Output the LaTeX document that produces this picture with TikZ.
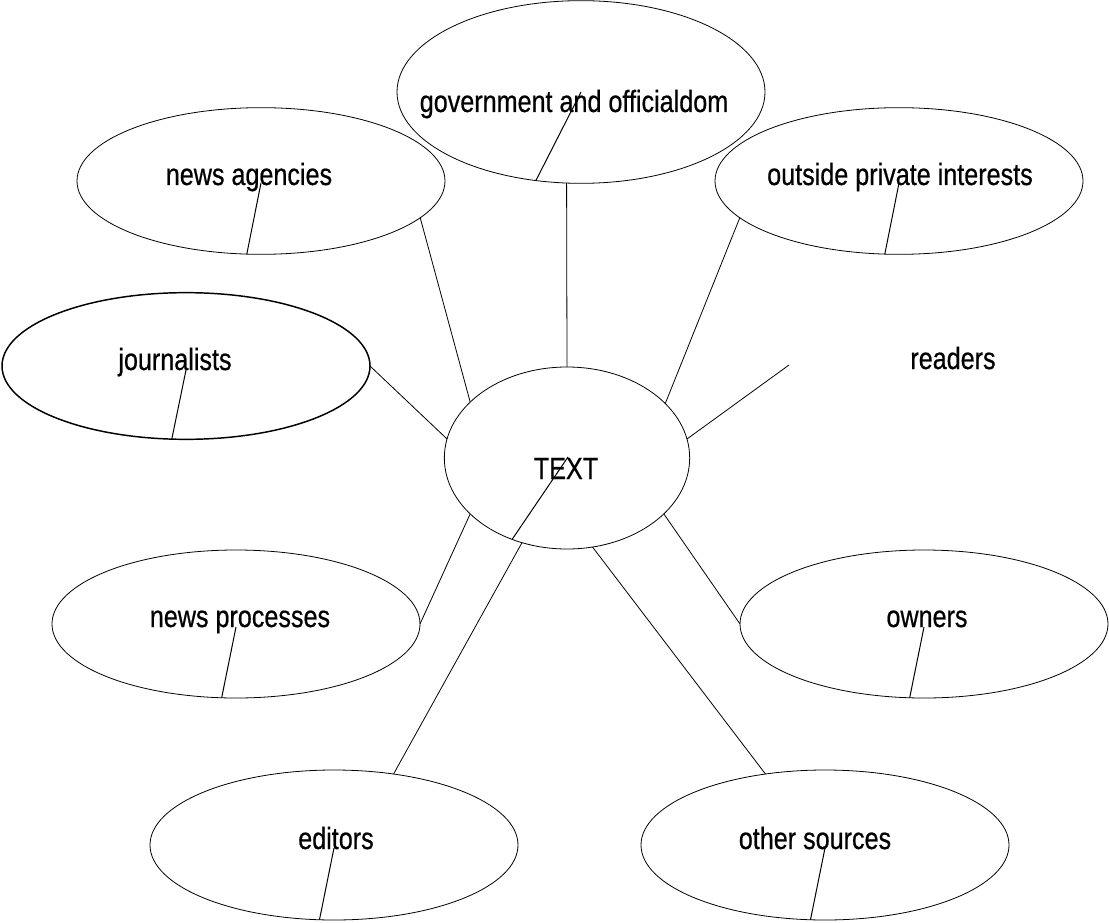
\documentclass[tikz,border=0pt]{standalone}
\usepackage{fontspec}
\setmainfont{Liberation Sans}[FakeStretch=0.82,FakeBold=0.6]
\usetikzlibrary{shapes.geometric,calc}
\tikzset{
  bub/.style={ellipse, draw, line width=0.6pt, inner sep=0pt, outer sep=0pt,
              minimum width=276pt, minimum height=110pt},
  lbl/.style={anchor=base, inner sep=0pt, font=\fontsize{23}{26}\selectfont},
  spoke/.style={line width=0.6pt},
  slant/.style={line width=0.75pt},
}
\begin{document}
\begin{tikzpicture}[x=0.75pt,y=-0.75pt]
\useasboundingbox (0,0) rectangle (1109,923);
% ellipses
\node[bub, minimum height=137pt] (gov) at (581,92) {};
\node[bub] (na) at (261,181) {};
\node[bub] (opi) at (899,181) {};
\node[bub, line width=1.1pt] (jo) at (186,366) {};
\node[bub, minimum width=184pt, minimum height=136.5pt] (T) at (567,458) {};
\node[bub, minimum height=111pt] (np) at (236,624) {};
\node[bub, minimum height=111pt] (ow) at (924,624) {};
\node[bub, minimum height=112.5pt] (ed) at (334,845) {};
\node[bub, minimum height=112.5pt] (os) at (825,845) {};
\coordinate (rd) at (789,365);
% labels
\node[lbl] (govt) at (574,112) {government and officialdom};
\node[lbl] (nat) at (249,185) {news agencies};
\node[lbl] (opit) at (900,185) {outside private interests};
\node[lbl] (jot) at (175,370) {journalists};
\node[lbl] (Tt) at (566,479) {TEXT};
\node[lbl] (rdt) at (953,369) {readers};
\node[lbl] (npt) at (240,627) {news processes};
\node[lbl] (owt) at (927,627) {owners};
\node[lbl] (edt) at (336,849) {editors};
\node[lbl] (ost) at (815,849) {other sources};
% slanted inner strokes
\draw[slant] (gov.243.7) -- (gov.center);
\draw[slant] (na.259) -- ($(na.center)+(0,2)$);
\draw[slant] (opi.259) -- ($(opi.center)+(0,2)$);
\draw[slant] (jo.259) -- ($(jo.center)+(0,4)$);
\draw[slant] (T.236.5) -- ($(T.center)+(1,-1)$);
\draw[slant] (np.259) -- ($(np.center)+(0,3)$);
\draw[slant] (ow.259) -- ($(ow.center)+(0,3)$);
\draw[slant] (ed.259) -- ($(ed.center)+(0,3)$);
\draw[slant] (os.259) -- ($(os.center)+(0,3)$);
% spokes
\draw[spoke] (T.90) -- (gov.261);
\draw[spoke] (T.150) -- (na.347);
\draw[spoke] (T.29.5) -- (opi.193);
\draw[spoke] (T.171) -- (jo.0);
\draw[spoke] (T.9) -- (rd);
\draw[spoke] (T.210) -- (np.0);
\draw[spoke] (T.330) -- (ow.180);
\draw[spoke] (T.242) -- (ed.50);
\draw[spoke] (T.286) -- (os.130);
\end{tikzpicture}
\end{document}
